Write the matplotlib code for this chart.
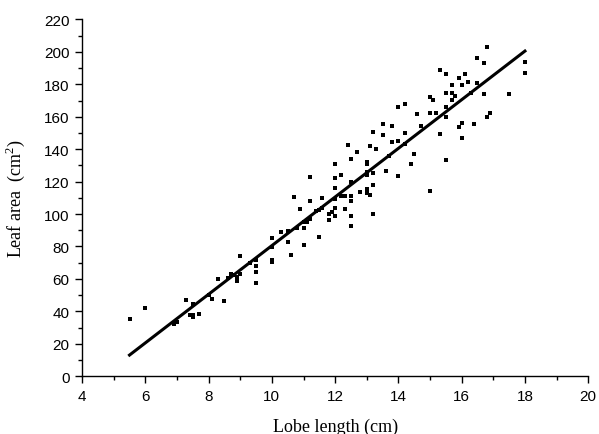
import matplotlib
matplotlib.use('Agg')
import matplotlib.pyplot as plt
from matplotlib.ticker import MultipleLocator
import numpy as np

# lobe length (cm) and leaf area (cm2)
lobe_length = [
    5.5, 6.0, 6.9, 7.0, 7.3, 7.4, 7.5, 7.5, 7.7, 7.5,
    8.0, 8.1, 8.3, 8.5, 8.6, 8.7, 8.8, 8.9, 8.9, 9.0,
    9.0, 9.3, 9.5, 9.5, 9.5, 9.5,
    10.0, 10.0, 10.0, 10.0, 10.6, 10.3, 10.5, 10.5, 10.7, 10.9,
    10.8, 11.0, 11.0, 11.1, 11.2, 11.0, 11.2, 11.2, 11.5, 11.4,
    11.5, 11.6, 11.6, 11.8, 11.8, 11.9, 12.0, 12.0, 12.0, 12.0,
    12.0, 12.0, 12.2, 12.3, 12.3, 12.5, 12.5, 12.5, 12.5, 12.5,
    12.5, 12.4, 12.7, 12.8, 13.0, 13.0, 13.1, 13.2, 13.2, 13.0,
    13.0, 13.0, 13.1, 13.3, 13.2, 13.6, 13.8, 14.0, 14.0,
    13.2, 13.5, 13.5, 13.8, 14.2, 14.2, 14.0, 14.2, 14.5, 14.4,
    14.6, 14.7, 15.0, 15.1, 15.0, 15.2, 15.3, 15.3, 15.5, 15.5,
    15.5, 15.5, 15.5, 15.7, 15.7, 15.7, 15.8, 15.9, 16.0, 16.1,
    16.2, 15.9, 16.0, 16.0, 16.3, 16.4, 16.5, 16.5, 16.7, 16.7,
    16.8, 16.8, 16.9, 17.5, 18.0, 18.0,
    13.7, 15.0, 12.2, 13.0,
]
leaf_area = [
    35.4, 41.8, 31.9, 33.5, 47.1, 37.8, 36.2, 37.8, 38.3, 44.3,
    50.0, 47.5, 59.7, 46.1, 60.3, 63.0, 62.3, 61.1, 58.5, 73.9,
    63.0, 69.8, 71.8, 68.1, 64.4, 57.2,
    70.2, 71.8, 85.4, 79.4, 74.9, 89.1, 89.7, 82.9, 110.7, 103.1,
    91.5, 91.5, 94.9, 95.2, 96.9, 80.9, 122.7, 108.2, 85.6, 102.0,
    102.5, 103.5, 109.7, 96.3, 100.0, 101.4, 98.6, 103.5, 109.3, 115.9,
    122.0, 130.9, 124.1, 111.3, 103.1, 111.3, 108.2, 98.9, 92.4, 119.6,
    134.0, 142.6, 138.5, 113.4, 115.4, 113.0, 111.7, 117.9, 100.0, 124.1,
    130.9, 132.3, 141.8, 140.1, 125.3, 126.5, 144.6, 145.2, 123.3,
    150.4, 148.8, 155.6, 154.5, 149.8, 143.2, 166.2, 168.1, 137.2, 130.7,
    161.5, 154.5, 172.2, 170.6, 162.2, 162.2, 149.2, 189.1, 186.2, 133.3,
    174.5, 166.2, 160.1, 179.6, 174.7, 170.6, 172.7, 183.8, 179.6, 186.6,
    181.7, 153.7, 156.2, 147.1, 174.7, 155.7, 196.1, 180.9, 193.2, 174.3,
    203.3, 160.1, 162.2, 174.3, 193.6, 187.0,
    135.5, 114.0, 111.3, 126.1,
]

# fitted line y = a*x + b
fit_slope = 15.0
fit_intercept = -69.5

plt.rcParams['font.family'] = ['Liberation Sans', 'DejaVu Sans']
plt.rcParams['mathtext.fontset'] = 'custom'
plt.rcParams['mathtext.rm'] = 'Liberation Serif'

fig = plt.figure(figsize=(5.99, 4.35), dpi=100)
ax = fig.add_axes([0.137, 0.133, 0.845, 0.82])

ax.plot(lobe_length, leaf_area, 's', color='black', markersize=3.0, markeredgewidth=0)

x_fit = np.array([min(lobe_length), max(lobe_length)])
ax.plot(x_fit, fit_slope * x_fit + fit_intercept, color='black', linewidth=2.2)

ax.set_xlim(4, 20)
ax.set_ylim(0, 220)
ax.xaxis.set_major_locator(MultipleLocator(2))
ax.xaxis.set_minor_locator(MultipleLocator(1))
ax.yaxis.set_major_locator(MultipleLocator(20))
ax.yaxis.set_minor_locator(MultipleLocator(10))

for side in ['top', 'right']:
    ax.spines[side].set_visible(False)
for side in ['left', 'bottom']:
    ax.spines[side].set_linewidth(1.0)

ax.tick_params(which='major', direction='out', length=5, width=1, labelsize=11, pad=4)
ax.tick_params(which='minor', direction='out', length=3, width=1)

ax.set_xlabel('Lobe length (cm)', family='Liberation Serif', fontsize=13, labelpad=11)
ax.set_ylabel(r'Leaf area  (cm$^{2}$)', family='Liberation Serif', fontsize=13, labelpad=12)

plt.savefig('out.png', dpi=100)
